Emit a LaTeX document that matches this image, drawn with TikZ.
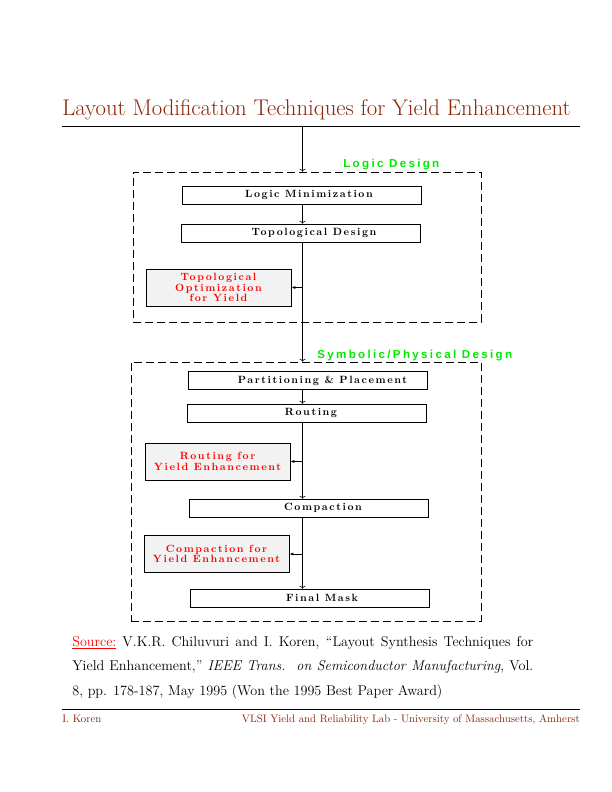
\documentclass[tikz,border=0pt]{standalone}
\usepackage{fontspec}
\usetikzlibrary{positioning}
\usetikzlibrary{arrows.meta}
\newfontfamily\stagefont[LetterSpace=15]{Latin Modern Roman}
\newfontfamily\phasefont[LetterSpace=20]{Liberation Sans}
\definecolor{titlered}{RGB}{140,36,6}
\definecolor{phasegreen}{RGB}{0,235,0}
\tikzset{
    stage/.style={
        draw, line width=0.6pt,
        minimum width=239pt, minimum height=18pt, inner sep=0pt,
        font=\stagefont\bfseries\fontsize{10.5}{11}\selectfont
    },
    nudge/.style={execute at begin node={\hspace*{#1}}},
    yieldstage/.style={
        draw, line width=0.6pt, fill=black!5, text=red, align=center,
        minimum width=145pt, minimum height=37pt, inner sep=0pt,
        font=\stagefont\bfseries\fontsize{10.5}{10.5}\selectfont
    },
    phase/.style={
        draw, line width=0.6pt, dash pattern=on 8pt off 4pt,
        inner sep=0pt
    },
    phaselabel/.style={
        anchor=base west, inner sep=0pt, text=phasegreen,
        font=\phasefont\bfseries\fontsize{11.6}{12}\selectfont
    },
}

\begin{document}
\begin{tikzpicture}[x=1pt,y=-1pt,line width=0.6pt]
    \useasboundingbox (0,0) rectangle (612,792);

    % Title and rule
    \node[anchor=base west, inner sep=0pt, text=titlered,
          font=\fontsize{22.7}{26}\selectfont] (title) at (62,115)
        {Layout Modification Techniques for Yield Enhancement};
    \coordinate (rulel) at (62,126);
    \coordinate (ruler) at (580,126);
    \draw (rulel) -- (ruler);

    % main flow line
    \coordinate (spine) at (302.5,126);

    % Logic design phase
    \node[phase, minimum width=348pt, minimum height=150pt] (logic) at (307,247) {};
    \node[phaselabel] (logiclabel) at (343,167) {Logic Design};
    \node[stage, nudge=15pt] (logmin) at (301.5,195) {Logic Minimization};
    \node[stage, nudge=27pt] (topdes) at (300.5,233) {Topological Design};
    \node[yieldstage] (topopt) at (218.5,287.5) {Topological\\Optimization\\for Yield};

    % Symbolic/physical design phase
    \node[phase, minimum width=350pt, minimum height=259pt] (phys) at (306,491.5) {};
    \node[phaselabel] (physlabel) at (317,358) {Symbolic/Physical Design};
    \node[stage, nudge=30pt] (part) at (307.5,380.5) {Partitioning \& Placement};
    \node[stage, nudge=8pt] (route) at (307,413) {Routing};
    \node[yieldstage] (routyield) at (217.5,461.5) {Routing for\\Yield Enhancement};
    \node[stage, nudge=29pt] (compact) at (308.5,508) {Compaction};
    \node[yieldstage] (compyield) at (216.5,554) {Compaction for\\Yield Enhancement};
    \node[stage, nudge=25pt] (mask) at (309.5,598) {Final Mask};

    % Lines
    \draw[->] (spine) -- (spine |- logic.north);
    \draw[->] (spine |- logmin.south) -- (spine |- topdes.north);
    \draw[->] (spine |- topdes.south) -- (spine |- phys.north);
    \draw[->] (spine |- part.south) -- (spine |- route.north);
    \draw[->] (spine |- route.south) -- (spine |- compact.north);
    \draw[->] (spine |- compact.south) -- (spine |- mask.north);

    % yield enhancement hooks
    \draw[-{Latex[length=4pt,width=3pt]}, line width=1pt] (spine |- topopt.east) -- (topopt.east);
    \draw[-{Latex[length=4pt,width=3pt]}, line width=1pt] (spine |- routyield.east) -- (routyield.east);
    \draw[-{Latex[length=4pt,width=3pt]}, line width=1pt] (spine |- compyield.east) -- (compyield.east);

    % Source
    \node[anchor=north west, inner sep=0pt, text width=461pt, align=justify,
          font=\fontsize{14.2}{24.5}\selectfont] (source) at (72,636)
        {\textcolor{red}{\underline{Source:}} V.K.R. Chiluvuri and I. Koren,
         ``Layout Synthesis Techniques for\linebreak
         Yield Enhancement,'' \textit{IEEE Trans.\ \ on Semiconductor Manufacturing}, Vol.\linebreak
         8, pp. 178-187, May 1995 (Won the 1995 Best Paper Award)};

    % Footer
    \coordinate (footl) at (62,709);
    \coordinate (footr) at (580,709);
    \draw (footl) -- (footr);
    \node[anchor=base west, inner sep=0pt, text=titlered,
          font=\fontsize{10.8}{12}\selectfont] (author) at (62,722) {I. Koren};
    \node[anchor=base east, inner sep=0pt, text=titlered,
          font=\fontsize{10.8}{12}\selectfont] (lab) at (580,722)
        {VLSI Yield and Reliability Lab - University of Massachusetts, Amherst};
\end{tikzpicture}
\end{document}
